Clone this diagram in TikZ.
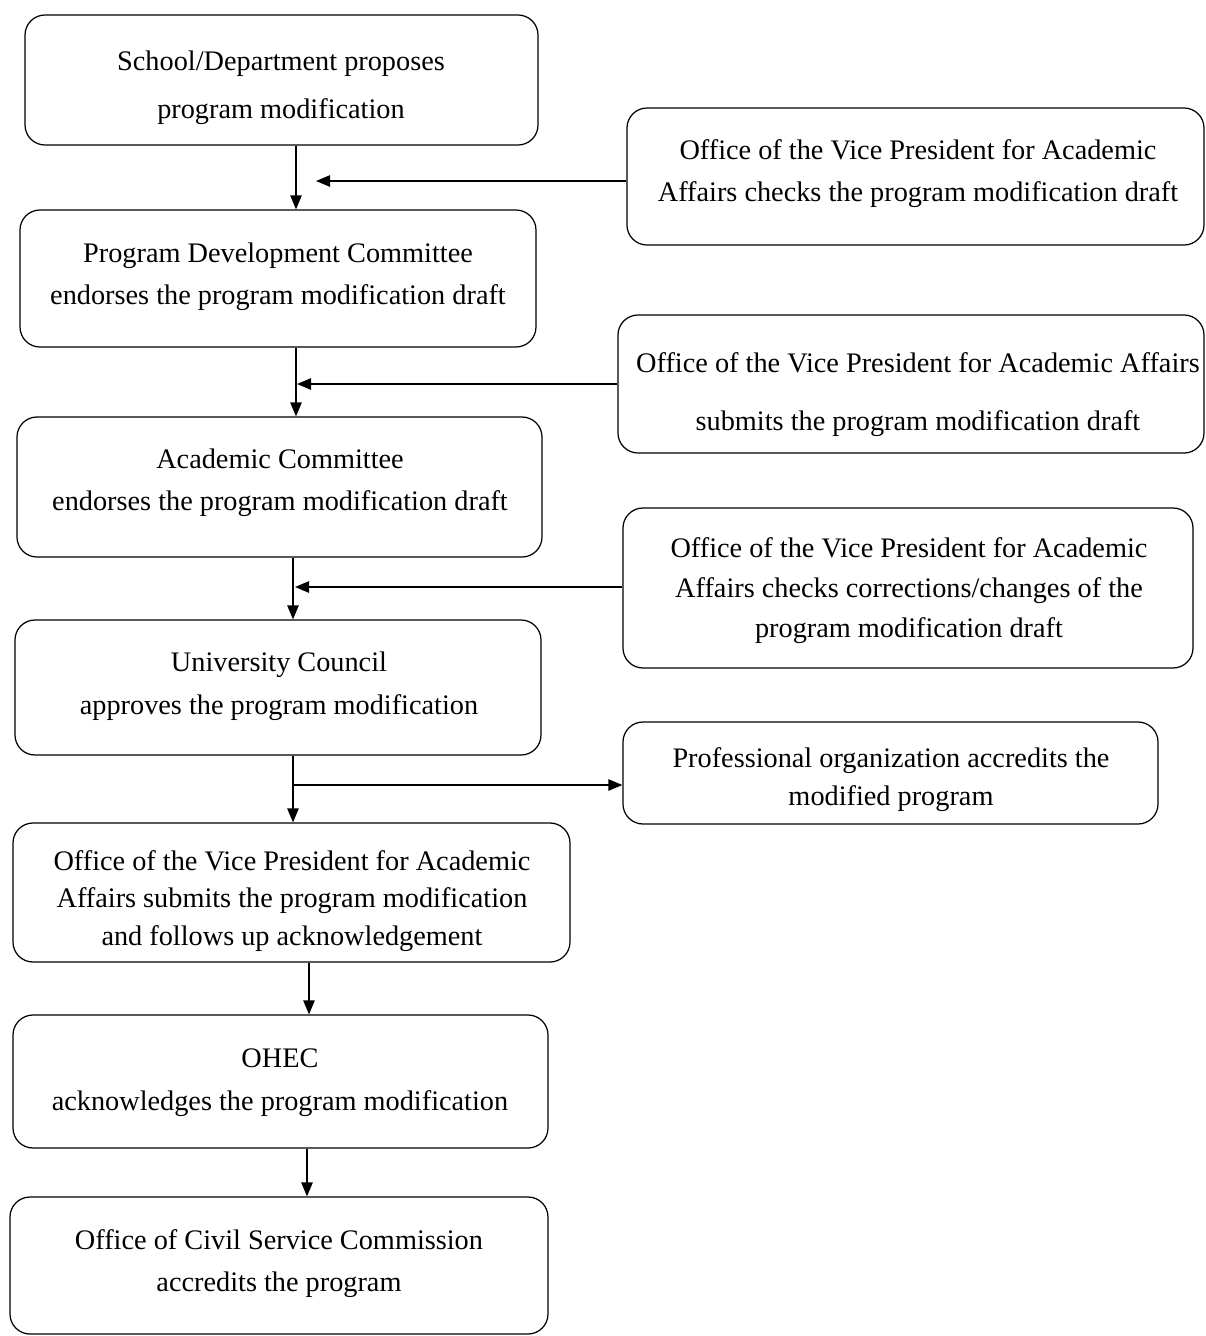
\documentclass[tikz,border=0pt]{standalone}
\usepackage{fontspec}
\setmainfont{Liberation Serif}
\usetikzlibrary{arrows.meta}
\tikzset{
  box/.style={draw, rounded corners=20*0.02cm, line width=0.7pt, inner sep=0pt},
  txt/.style={align=center, inner sep=0pt, yshift=-3*0.02cm, font=\fontsize{16.1}{#1}\selectfont},
  txt/.default=24,
  arr/.style={line width=0.8pt, -{Triangle[length=8pt,width=6.5pt]}},
  ln/.style={line width=0.8pt}
}
\begin{document}
\begin{tikzpicture}[x=0.02cm,y=-0.02cm]
\useasboundingbox (0,0) rectangle (1205,1336);
% left column boxes
\node[box, minimum width=513*0.02cm, minimum height=130*0.02cm] (b1) at (281.5,80) {};
\node[box, minimum width=516*0.02cm, minimum height=137*0.02cm] (b2) at (278,278.5) {};
\node[box, minimum width=525*0.02cm, minimum height=140*0.02cm] (b3) at (279.5,487) {};
\node[box, minimum width=526*0.02cm, minimum height=135*0.02cm] (b4) at (278,687.5) {};
\node[box, minimum width=557*0.02cm, minimum height=139*0.02cm] (b5) at (291.5,892.5) {};
\node[box, minimum width=535*0.02cm, minimum height=133*0.02cm] (b6) at (280.5,1081.5) {};
\node[box, minimum width=538*0.02cm, minimum height=137*0.02cm] (b7) at (279,1265.5) {};
% right column boxes
\node[box, minimum width=577*0.02cm, minimum height=137*0.02cm] (r1) at (915.5,176.5) {};
\node[box, minimum width=586*0.02cm, minimum height=138*0.02cm] (r2) at (911,384) {};
\node[box, minimum width=570*0.02cm, minimum height=160*0.02cm] (r3) at (908,588) {};
\node[box, minimum width=535*0.02cm, minimum height=102*0.02cm] (r4) at (890.5,773) {};
% texts
\node[txt=27.3] (t1) at (281,85) {School/Department proposes\\program modification};
\node[txt=23.9] (t2) at (278,274) {Program Development Committee\\endorses the program modification draft};
\node[txt=23.9] (t3) at (280,480) {Academic Committee\\endorses the program modification draft};
\node[txt=24.5] (t4) at (279,683) {University Council\\approves the program modification};
\node[txt=21.3] (t5) at (292,898) {Office of the Vice President for Academic\\Affairs submits the program modification\\and follows up acknowledgement};
\node[txt=24.5] (t6) at (280,1080) {OHEC\\acknowledges the program modification};
\node[txt=23.9] (t7) at (279,1261) {Office of Civil Service Commission\\accredits the program};
\node[txt=23.9] (u1) at (918,171) {Office of the Vice President for Academic\\Affairs checks the program modification draft};
\node[txt=33] (u2) at (918,392) {Office of the Vice President for Academic Affairs\\submits the program modification draft};
\node[txt=22.8] (u3) at (909,588) {Office of the Vice President for Academic\\Affairs checks corrections/changes of the\\program modification draft};
\node[txt=21.6] (u4) at (891,777) {Professional organization accredits the\\modified program};
% connector x positions
\coordinate (x1) at (296,0);
\coordinate (x2) at (296,0);
\coordinate (x3) at (293,0);
\coordinate (x4) at (293,0);
\coordinate (x5) at (309,0);
\coordinate (x6) at (307,0);
\coordinate (a1) at (316,181);
\coordinate (a2) at (297,384);
\coordinate (a3) at (295,587);
\coordinate (a4) at (293,785);
% vertical flow
\draw[arr] (b1.south -| x1) -- (b2.north -| x1);
\draw[arr] (b2.south -| x2) -- (b3.north -| x2);
\draw[arr] (b3.south -| x3) -- (b4.north -| x3);
\draw[arr] (b4.south -| x4) -- (b5.north -| x4);
\draw[arr] (b5.south -| x5) -- (b6.north -| x5);
\draw[arr] (b6.south -| x6) -- (b7.north -| x6);
% side arrows
\draw[arr] (r1.west |- a1) -- (a1);
\draw[arr] (r2.west |- a2) -- (a2);
\draw[arr] (r3.west |- a3) -- (a3);
\draw[arr] (a4) -- (r4.west |- a4);
\end{tikzpicture}
\end{document}
